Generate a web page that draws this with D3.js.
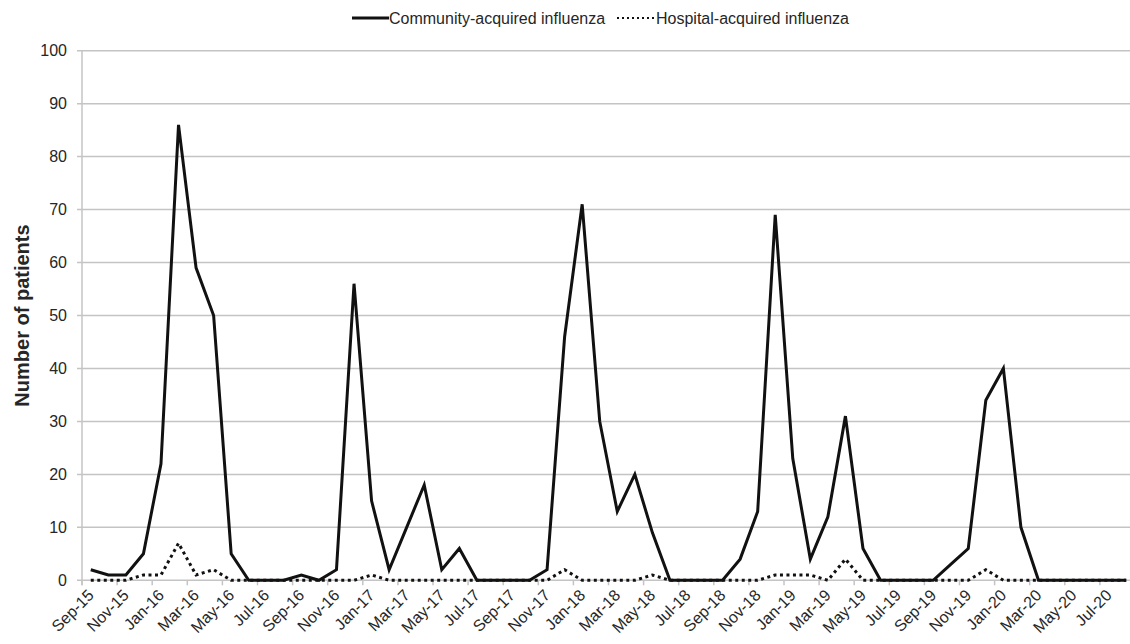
<!DOCTYPE html>
<html>
<head>
<meta charset="utf-8">
<script src="https://cdn.jsdelivr.net/npm/d3@7"></script>
<style>
  body { margin: 0; background: #fff; }
  svg { display: block; font-family: "Liberation Sans", Arial, sans-serif; }
</style>
</head>
<body>
<div id="chart"></div>
<script>
// --- Data ---
const months = [
  "Sep-15","Oct-15","Nov-15","Dec-15","Jan-16","Feb-16","Mar-16","Apr-16","May-16","Jun-16","Jul-16","Aug-16",
  "Sep-16","Oct-16","Nov-16","Dec-16","Jan-17","Feb-17","Mar-17","Apr-17","May-17","Jun-17","Jul-17","Aug-17",
  "Sep-17","Oct-17","Nov-17","Dec-17","Jan-18","Feb-18","Mar-18","Apr-18","May-18","Jun-18","Jul-18","Aug-18",
  "Sep-18","Oct-18","Nov-18","Dec-18","Jan-19","Feb-19","Mar-19","Apr-19","May-19","Jun-19","Jul-19","Aug-19",
  "Sep-19","Oct-19","Nov-19","Dec-19","Jan-20","Feb-20","Mar-20","Apr-20","May-20","Jun-20","Jul-20","Aug-20"
];

const communityAcquired = [
  2, 1, 1, 5, 22, 86, 59, 50, 5, 0, 0, 0,
  1, 0, 2, 56, 15, 2, 10, 18, 2, 6, 0, 0,
  0, 0, 2, 46, 71, 30, 13, 20, 9, 0, 0, 0,
  0, 4, 13, 69, 23, 4, 12, 31, 6, 0, 0, 0,
  0, 3, 6, 34, 40, 10, 0, 0, 0, 0, 0, 0
];

const hospitalAcquired = [
  0, 0, 0, 1, 1, 7, 1, 2, 0, 0, 0, 0,
  0, 0, 0, 0, 1, 0, 0, 0, 0, 0, 0, 0,
  0, 0, 0, 2, 0, 0, 0, 0, 1, 0, 0, 0,
  0, 0, 0, 1, 1, 1, 0, 4, 0, 0, 0, 0,
  0, 0, 0, 2, 0, 0, 0, 0, 0, 0, 0, 0
];

const yTicks = [0, 10, 20, 30, 40, 50, 60, 70, 80, 90, 100];

// --- Setup ---
const width = 1130, height = 644;
const plotLeft = 82, plotTop = 50.7, plotBottom = 580.3;
const bandW = 17.55;
const textColor = "#262626";

const svg = d3.select("#chart").append("svg")
  .attr("width", width)
  .attr("height", height);

const x = d3.scaleBand()
  .domain(months)
  .range([plotLeft, plotLeft + bandW * months.length])
  .padding(0);

const y = d3.scaleLinear()
  .domain([0, 100])
  .range([plotBottom, plotTop]);

const xc = m => x(m) + x.bandwidth() / 2;

// gridlines + y ticks
svg.append("g")
  .selectAll("line")
  .data(yTicks)
  .enter().append("line")
  .attr("x1", plotLeft - 5)
  .attr("x2", width)
  .attr("y1", d => y(d))
  .attr("y2", d => y(d))
  .attr("stroke", "#c4c4c4")
  .attr("stroke-width", 1.5);

// y axis line
svg.append("line")
  .attr("x1", plotLeft).attr("x2", plotLeft)
  .attr("y1", y(100)).attr("y2", plotBottom + 5)
  .attr("stroke", "#c4c4c4")
  .attr("stroke-width", 1.5);

// y labels
svg.append("g")
  .selectAll("text")
  .data(yTicks)
  .enter().append("text")
  .attr("x", plotLeft - 15)
  .attr("y", d => y(d))
  .attr("dy", "0.36em")
  .attr("text-anchor", "end")
  .attr("font-size", "16px")
  .attr("fill", textColor)
  .text(d => d);

// x tick marks at every other category boundary
const tickMonths = months.filter((m, i) => i % 2 === 0);
svg.append("g")
  .selectAll("line")
  .data(tickMonths)
  .enter().append("line")
  .attr("x1", d => x(d))
  .attr("x2", d => x(d))
  .attr("y1", plotBottom)
  .attr("y2", plotBottom + 5)
  .attr("stroke", "#c4c4c4")
  .attr("stroke-width", 1.5);

// x labels
svg.append("g")
  .selectAll("text")
  .data(tickMonths)
  .enter().append("text")
  .attr("transform", d => `translate(${xc(d) + 4},${plotBottom + 16}) rotate(-45)`)
  .attr("text-anchor", "end")
  .attr("font-size", "16px")
  .attr("fill", textColor)
  .text(d => d);

// y axis title
svg.append("text")
  .attr("transform", `translate(29,${(plotTop + plotBottom) / 2}) rotate(-90)`)
  .attr("text-anchor", "middle")
  .attr("font-size", "20px")
  .attr("font-weight", "bold")
  .attr("fill", textColor)
  .text("Number of patients");

// --- Lines ---
const line = d3.line()
  .x((d, i) => xc(months[i]))
  .y(d => y(d));

svg.append("path")
  .datum(hospitalAcquired)
  .attr("d", line)
  .attr("fill", "none")
  .attr("stroke", "#111")
  .attr("stroke-width", 3)
  .attr("stroke-dasharray", "3,3.5");

svg.append("path")
  .datum(communityAcquired)
  .attr("d", line)
  .attr("fill", "none")
  .attr("stroke", "#111")
  .attr("stroke-width", 3)
  .attr("stroke-linejoin", "miter");

// --- Legend ---
const legend = svg.append("g");
legend.append("line")
  .attr("x1", 352).attr("x2", 389)
  .attr("y1", 18).attr("y2", 18)
  .attr("stroke", "#111").attr("stroke-width", 3);
legend.append("text")
  .attr("x", 389).attr("y", 18).attr("dy", "0.36em")
  .attr("font-size", "16px").attr("fill", textColor)
  .text("Community-acquired influenza");
legend.append("line")
  .attr("x1", 617).attr("x2", 655)
  .attr("y1", 18).attr("y2", 18)
  .attr("stroke", "#111").attr("stroke-width", 2)
  .attr("stroke-dasharray", "2,3");
legend.append("text")
  .attr("x", 656).attr("y", 18).attr("dy", "0.36em")
  .attr("font-size", "16px").attr("fill", textColor)
  .text("Hospital-acquired influenza");
</script>
</body>
</html>
